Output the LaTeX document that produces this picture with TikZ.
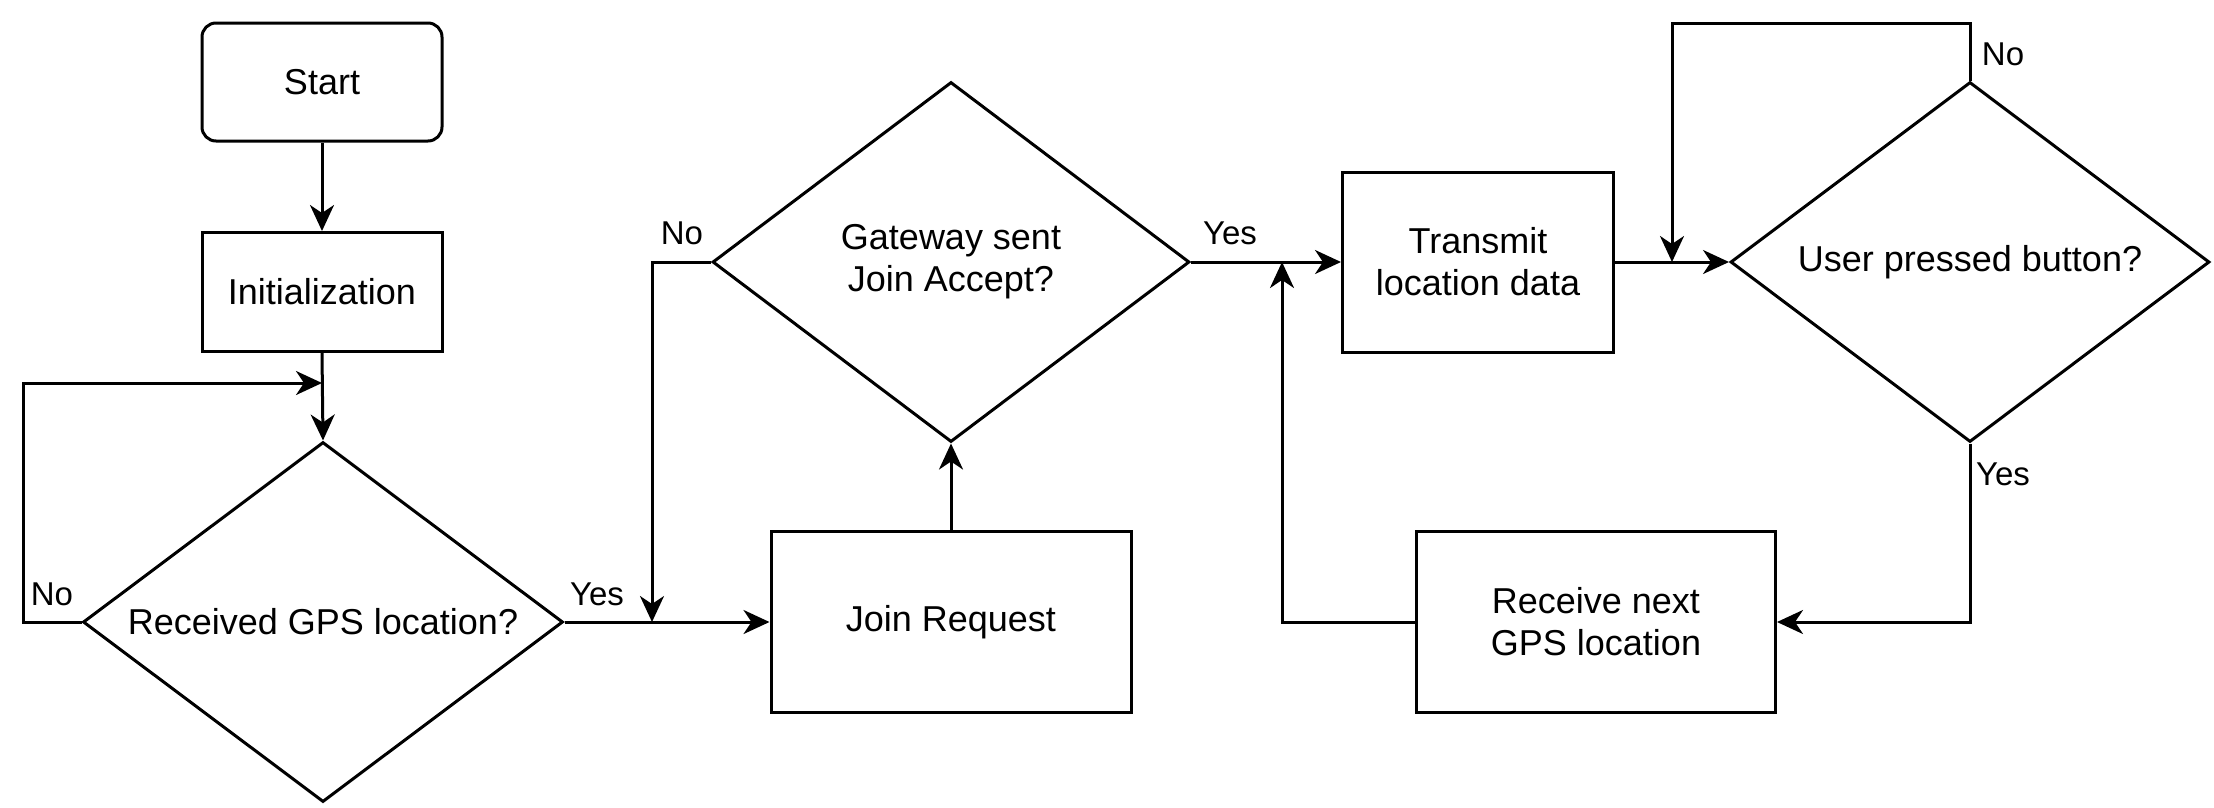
\documentclass[tikz,border=0pt]{standalone}
\usepackage{fontspec}
\setmainfont{Liberation Sans}
\usetikzlibrary{shapes.geometric,arrows.meta}
\begin{document}
\begin{tikzpicture}[x=1pt,y=-1pt,
  every node/.style={font=\fontsize{36}{42}\selectfont, align=center},
  box/.style={draw, line width=3pt, inner sep=0pt},
  dia/.style={draw, diamond, line width=3pt, inner sep=0pt, minimum width=480pt, minimum height=360pt},
  lbl/.style={font=\fontsize{33}{36}\selectfont, inner sep=0pt},
  conn/.style={line width=3pt, -{Stealth[length=26pt,width=24pt,inset=8pt]}}]
\useasboundingbox (0,0) rectangle (2214,807);
\fill[white] (0,0) rectangle (2214,807);

\node[box, rounded corners=14pt, minimum width=240pt, minimum height=118pt] (start) at (322,82) {Start};
\node[box, minimum width=240pt, minimum height=119pt] (init) at (322,292) {Initialization};
\node[dia] (d1) at (323,622) {};
\node (d1t) at (d1.center) {Received GPS location?};
\node[box, minimum width=360pt, minimum height=181pt] (join) at (951,622) {Join Request};
\node[dia, minimum width=477pt] (d2) at (951,262) {};
\node (d2t) at (d2.center) {Gateway sent\\Join Accept?};
\node[box, minimum width=271pt, minimum height=180pt] (tx) at (1478,262) {Transmit\\location data};
\node[dia, minimum width=479pt] (d3) at (1970,262) {};
\node (d3t) at (d3.center) {User pressed button?};
\node[box, minimum width=359pt, minimum height=181pt] (rx) at (1596,622) {Receive next\\GPS location};

\coordinate (m1) at (322,383);
\coordinate (m2) at (652,622);
\coordinate (m3) at (1282,262);
\coordinate (m4) at (1672,262);

% connectors
\draw[conn] (start.south) -- (init.north);
\draw[conn] (init.south) -- (d1.north);
\draw[conn] (d1.west) -- (23,622) -- (23,383) -- (m1);
\draw[conn] (d1.east) -- (join.west);
\draw[conn] (join.north) -- (d2.south);
\draw[conn] (d2.west) -- (652,262) -- (m2);
\draw[conn] (d2.east) -- (tx.west);
\draw[conn] (rx.west) -- (1282,622) -- (m3);
\draw[conn] (tx.east) -- (d3.west);
\draw[conn] (d3.north) -- (1970,23) -- (1672,23) -- (m4);
\draw[conn] (d3.south) -- (1970,622) -- (rx.east);

% labels
\node[lbl] (l1) at (52,594) {No};
\node[lbl] (l2) at (597,594) {Yes};
\node[lbl] (l3) at (682,233) {No};
\node[lbl] (l4) at (1230,233) {Yes};
\node[lbl] (l5) at (2003,54) {No};
\node[lbl] (l6) at (2003,474) {Yes};
\end{tikzpicture}
\end{document}
